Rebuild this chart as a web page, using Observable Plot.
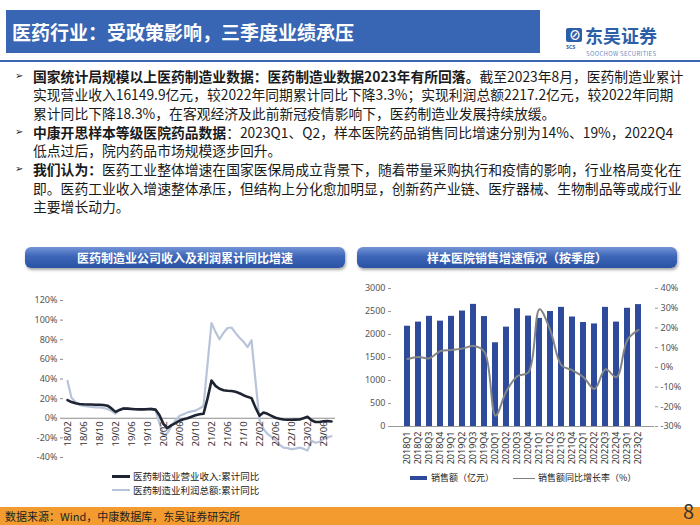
<!DOCTYPE html>
<html><head><meta charset="utf-8">
<script src="https://cdn.jsdelivr.net/npm/d3@7"></script>
<script src="https://cdn.jsdelivr.net/npm/@observablehq/plot@0.6"></script>
<style>
body{margin:0;width:700px;height:525px;position:relative;background:#fff;font-family:"Noto Sans CJK SC","Noto Sans",sans-serif;overflow:hidden}
.abs{position:absolute;white-space:nowrap}
.bl{position:absolute;left:33px;font-size:13.8px;color:#1a1a1a;white-space:nowrap;line-height:18.7px}
.mk{position:absolute;left:15px;font-size:10px;font-family:"DejaVu Sans",sans-serif;color:#222;line-height:18.7px}
.ct{position:absolute;top:247px;width:320px;height:21px;line-height:21px;text-align:center;color:#fff;font-weight:bold;font-size:12px;border-radius:6px;background:linear-gradient(#7394d6,#3d66b8 45%,#2a52a4);box-shadow:1px 2px 3px rgba(0,0,0,0.35)}
.lg{position:absolute;font-size:9.5px;color:#222;line-height:12px;white-space:nowrap}
</style></head><body>

<div class="abs" style="left:6px;top:10px;width:534px;height:43px;background:#3865b4"></div>
<div class="abs" style="left:12px;top:10px;height:43px;line-height:43px;color:#fff;font-size:19px;font-weight:bold">医药行业：受政策影响，三季度业绩承压</div>
<div class="abs" style="left:0;top:60px;width:700px;height:2px;background:#3865b4"></div>

<div class="abs" style="left:566px;top:28px;width:16px;height:14px;background:#2d5fa8;border-radius:2px"></div>
<div class="abs" style="left:569px;top:27px;font-size:12px;color:#fff;font-weight:bold;line-height:15px">⊘</div>
<div class="abs" style="left:566px;top:44px;font-size:5px;color:#2d5fa8;font-weight:bold;line-height:6px">SCS</div>
<div class="abs" style="left:585px;top:25px;font-size:18px;font-weight:bold;color:#2d5fa8;line-height:20px">东吴证券</div>
<div class="abs" style="left:586px;top:50px;font-size:6px;color:#6b8cc4;line-height:7px;letter-spacing:0.3px">SOOCHOW SECURITIES</div>

<div class="mk" style="top:66.5px">➢</div>
<div class="bl" style="top:66.5px"><b>国家统计局规模以上医药制造业数据：医药制造业数据2023年有所回落。</b>截至2023年8月，医药制造业累计</div>
<div class="bl" style="top:85.2px">实现营业收入16149.9亿元，较2022年同期累计同比下降3.3%；实现利润总额2217.2亿元，较2022年同期</div>
<div class="bl" style="top:103.9px">累计同比下降18.3%，在客观经济及此前新冠疫情影响下，医药制造业发展持续放缓。</div>
<div class="mk" style="top:122.6px">➢</div>
<div class="bl" style="top:122.6px"><b>中康开思样本等级医院药品数据</b>：2023Q1、Q2，样本医院药品销售同比增速分别为14%、19%，2022Q4</div>
<div class="bl" style="top:141.3px">低点过后，院内药品市场规模逐步回升。</div>
<div class="mk" style="top:160px">➢</div>
<div class="bl" style="top:160px"><b>我们认为：</b>医药工业整体增速在国家医保局成立背景下，随着带量采购执行和疫情的影响，行业格局变化在</div>
<div class="bl" style="top:178.7px">即。医药工业收入增速整体承压，但结构上分化愈加明显，创新药产业链、医疗器械、生物制品等或成行业</div>
<div class="bl" style="top:197.4px">主要增长动力。</div>

<div class="ct" style="left:25px">医药制造业公司收入及利润累计同比增速</div>
<div class="ct" style="left:357px">样本医院销售增速情况（按季度）</div>

<div id="left" class="abs" style="left:0;top:280px"></div>
<div id="right" class="abs" style="left:350px;top:278px"></div>

<div class="abs" style="left:112px;top:475px;width:18px;height:2.5px;background:#1e2431"></div>
<div class="lg" style="left:133px;top:470px">医药制造业营业收入:累计同比</div>
<div class="abs" style="left:112px;top:489px;width:18px;height:2px;background:#b8c4da"></div>
<div class="lg" style="left:133px;top:484px">医药制造业利润总额:累计同比</div>

<div class="abs" style="left:410px;top:476px;width:17px;height:4px;background:#2e4b9b"></div>
<div class="lg" style="left:431px;top:472px;font-size:9px">销售额（亿元）</div>
<div class="abs" style="left:513px;top:477.5px;width:22px;height:1.5px;background:#808080"></div>
<div class="lg" style="left:538px;top:472px;font-size:9px">销售额同比增长率（%）</div>

<div class="abs" style="left:0;top:507px;width:700px;height:18px;background:#f39b2f"></div>
<div class="abs" style="left:5px;top:507px;line-height:18px;font-size:11px;color:#222">数据来源：Wind，中康数据库，东吴证券研究所</div>
<div class="abs" style="left:683px;top:499px;font-size:20px;line-height:24px;color:#333">8</div>

<script>
// ---- Left chart data (monthly, 2018/02 – 2023/08, cumulative YoY %) ----
const monthStart = "2018-02-01";
const monthCount = 67;
const revenueYoY = [
  18.5, 16.5, 15.2, 14.5, 14.2, 14.0, 14.0, 13.8, 13.8, 13.5, 12.8,
  10.0, 6.5, 8.5, 10.0, 9.8, 9.5, 9.2, 9.0, 9.0, 9.2, 9.3, 8.8,
  3.0, -6.0, -10.0, -7.0, -5.0, -2.5, -1.0, 0.0, 1.5, 3.0, 4.0, 4.5,
  20.0, 38.5, 33.0, 30.0, 28.5, 28.0, 27.8, 27.0, 25.5, 23.5, 21.8, 20.5,
  11.0, 2.5, 5.8, 4.5, 2.5, 0.5, -0.5, -1.3, -1.6, -1.6, -1.4, -1.2,
  0.0, 1.5, -2.0, -3.8, -3.8, -3.0, -2.8, -3.3
];
const profitYoY = [
  38, 21, 16.5, 13.5, 12.5, 12, 11.5, 11, 11, 10.5, 9.5,
  7.5, 4.5, 8.5, 10.5, 10, 9.5, 9, 9, 9.2, 9.8, 10, 8.0,
  -5, -18, -15, -8, -2, 2.5, 4, 6, 7, 7.8, 10, 12.5,
  55, 97, 88, 80.5, 87, 92, 92.5, 87, 82, 78, 72.5, 79.5,
  38, -2, -11, -16, -19, -22, -27, -30, -30.5, -31.5, -31, -30,
  -31, -33, -23, -25, -24, -21, -19.5, -18.3
];
const xTickLabels = ["18/02","18/06","18/10","19/02","19/06","19/10","20/02","20/06","20/10",
  "21/02","21/06","21/10","22/02","22/06","22/10","23/02","23/06"];
const pctTicksLeft = [-40, -20, 0, 20, 40, 60, 80, 100, 120];

// ---- Right chart data (quarterly) ----
const quarters = ["2018Q1","2018Q2","2018Q3","2018Q4","2019Q1","2019Q2","2019Q3","2019Q4",
  "2020Q1","2020Q2","2020Q3","2020Q4","2021Q1","2021Q2","2021Q3","2021Q4",
  "2022Q1","2022Q2","2022Q3","2022Q4","2023Q1","2023Q2"];
const salesAmount = [2180, 2270, 2395, 2290, 2395, 2510, 2655, 2390, 1820, 2160, 2560, 2400,
  2350, 2500, 2590, 2380, 2260, 2230, 2590, 2270, 2570, 2650];
const salesYoY = [4.2, 5.3, 4.6, 8.3, 8.8, 9.5, 10.8, 7.8, -24.5, -12, -4.4, -2.5,
  29.5, 18.5, 1, -1.5, -5, -11, -1, -5, 14, 19];
const salesTicks = [0, 500, 1000, 1500, 2000, 2500, 3000];
const growthTicks = [-30, -20, -10, 0, 10, 20, 30, 40];

// ---- build ----
const fmtM = d3.utcFormat("%y/%m");
const months = d3.range(monthCount).map(i => fmtM(d3.utcMonth.offset(new Date(monthStart), i)));
const leftData = months.map((m, i) => ({m, rev: revenueYoY[i], prof: profitYoY[i]}));
const font = "'Noto Sans','Noto Sans CJK SC',sans-serif";

const left = Plot.plot({
  width: 350, height: 185,
  marginLeft: 63, marginRight: 15, marginTop: 20, marginBottom: 8,
  style: {fontFamily: font, fontSize: "9px", color: "#555", background: "none", overflow: "visible"},
  x: {type: "point", domain: months, padding: 0.5, axis: null},
  y: {domain: [-40, 120], axis: null},
  marks: [
    Plot.ruleY([0], {stroke: "#8c8c8c", strokeWidth: 1}),
    Plot.axisY(pctTicksLeft, {tickFormat: d => d + "%", tickSize: 3, tickPadding: 3, line: true, stroke: "#8c8c8c", label: null}),
    Plot.line(leftData, {x: "m", y: "prof", stroke: "#b8c4da", strokeWidth: 2.2}),
    Plot.line(leftData, {x: "m", y: "rev", stroke: "#1e2431", strokeWidth: 2.6}),
    Plot.text(xTickLabels, {x: d => d, y: 0, rotate: -90, textAnchor: "end", dy: 3, fontSize: 9.5, fill: "#333"})
  ]
});
document.getElementById("left").appendChild(left);

const toLeft = d3.scaleLinear([-30, 40], [0, 3000]);
const rightData = quarters.map((q, i) => ({q, s: salesAmount[i], g: salesYoY[i]}));
const right = Plot.plot({
  width: 350, height: 195,
  marginLeft: 41, marginRight: 46, marginTop: 10, marginBottom: 47,
  style: {fontFamily: font, fontSize: "9px", color: "#555", background: "none", overflow: "visible"},
  x: {type: "band", domain: quarters, paddingInner: 0.45, paddingOuter: 0.225, axis: null},
  y: {domain: [0, 3000], axis: null},
  marks: [
    Plot.barY(rightData, {x: "q", y: "s", fill: "#2e4b9b"}),
    Plot.line(rightData, {x: "q", y: d => toLeft(d.g), stroke: "#858585", strokeWidth: 2, curve: "catmull-rom"}),
    Plot.axisX({tickRotate: -90, tickSize: 0, tickPadding: 5, fontSize: 9, color: "#333", label: null}),
    Plot.ruleY([0], {stroke: "#999"}),
    Plot.axisY(salesTicks, {anchor: "left", line: true, tickSize: 3, tickPadding: 3, stroke: "#999", label: null,
      tickFormat: d => String(d)}),
    Plot.axisY(growthTicks.map(toLeft), {anchor: "right", line: true, tickSize: 3, tickPadding: 3, stroke: "#999", label: null,
      tickFormat: d => Math.round(toLeft.invert(d)) + "%"})
  ]
});
document.getElementById("right").appendChild(right);
</script>
</body></html>
